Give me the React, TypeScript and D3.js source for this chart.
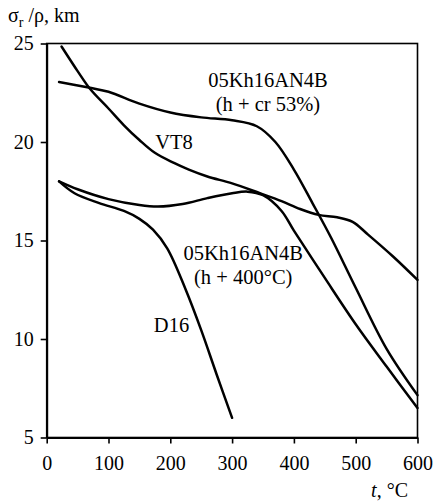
import React, { useEffect, useRef } from 'react';
import * as d3 from 'd3';

// curves: temperature (°C) and specific strength (km)
const vt8T = [24, 50, 70, 100, 125, 150, 175, 205, 230, 260, 300, 345, 380, 410, 440, 470, 495, 520, 560, 600];
const vt8V = [24.85, 23.6, 22.7, 21.7, 20.85, 20.1, 19.45, 18.95, 18.6, 18.25, 17.9, 17.4, 17.0, 16.6, 16.3, 16.18, 15.95, 15.3, 14.2, 13.0];

const cr53T = [20, 70, 100, 150, 200, 250, 300, 340, 370, 400, 430, 460, 500, 550, 600];
const cr53V = [23.05, 22.75, 22.55, 21.95, 21.5, 21.25, 21.1, 20.8, 20.0, 18.6, 16.9, 15.15, 12.6, 9.5, 7.15];

const h400T = [20, 50, 100, 150, 180, 220, 260, 300, 325, 350, 380, 400, 450, 500, 550, 600];
const h400V = [18, 17.6, 17.1, 16.8, 16.72, 16.85, 17.15, 17.4, 17.48, 17.3, 16.5, 15.5, 13.1, 10.75, 8.6, 6.5];

const d16T = [20, 45, 85, 125, 150, 172, 195, 225, 250, 275, 300];
const d16V = [18, 17.4, 16.9, 16.5, 16.1, 15.55, 14.6, 12.5, 10.45, 8.2, 6.0];

const xTicks = [0, 100, 200, 300, 400, 500, 600];
const yTicks = [5, 10, 15, 20, 25];

// curve labels: [text lines, x (°C), y (km) of first baseline]
const labels: [string[], number, number][] = [
  [['05Kh16AN4B', '(h + cr 53%)'], 358, 22.8],
  [['VT8'], 206, 19.63],
  [['05Kh16AN4B', '(h + 400°C)'], 318, 14.0],
  [['D16'], 202, 10.37],
];

const W = 437;
const H = 504;
const FONT = 'Liberation Serif, serif';

export default function App() {
  const ref = useRef<SVGSVGElement>(null);

  useEffect(() => {
    const svg = d3.select(ref.current);
    svg.selectAll('*').remove();

    const margin = { top: 43.5, right: 19.5, bottom: 66.5, left: 46.7 };
    const width = W - margin.left - margin.right;
    const height = H - margin.top - margin.bottom;

    const x = d3.scaleLinear().domain([0, 600]).range([0, width]);
    const y = d3.scaleLinear().domain([5, 25]).range([height, 0]);

    const g = svg.append('g').attr('transform', `translate(${margin.left},${margin.top})`);

    // frame
    g.append('rect')
      .attr('width', width)
      .attr('height', height)
      .attr('fill', 'none')
      .attr('stroke', '#000')
      .attr('stroke-width', 1.6);

    // axes
    const xAxis = g.append('g')
      .attr('transform', `translate(0,${height})`)
      .call(d3.axisBottom(x).tickValues(xTicks).tickSize(6).tickSizeOuter(0).tickPadding(12));
    const yAxis = g.append('g')
      .call(d3.axisLeft(y).tickValues(yTicks).tickSize(6).tickSizeOuter(0).tickPadding(7));

    [xAxis, yAxis].forEach(a => {
      a.select('.domain').attr('stroke-width', 2);
      a.selectAll('line').attr('stroke-width', 1.6);
      a.selectAll('text')
        .attr('font-family', FONT)
        .attr('font-size', 20)
        .attr('fill', '#000');
    });

    // curves
    const line = d3.line<[number, number]>()
      .x(d => x(d[0]))
      .y(d => y(d[1]))
      .curve(d3.curveCatmullRom.alpha(0.5));

    const series: [number[], number[]][] = [
      [vt8T, vt8V],
      [cr53T, cr53V],
      [h400T, h400V],
      [d16T, d16V],
    ];
    series.forEach(([ts, vs]) => {
      g.append('path')
        .datum(ts.map((t, i) => [t, vs[i]] as [number, number]))
        .attr('d', line)
        .attr('fill', 'none')
        .attr('stroke', '#000')
        .attr('stroke-width', 2.5)
        .attr('stroke-linecap', 'round');
    });

    // labels on the curves
    labels.forEach(([lines, t, v]) => {
      const txt = g.append('text')
        .attr('x', x(t))
        .attr('y', y(v))
        .attr('text-anchor', 'middle')
        .attr('font-family', FONT)
        .attr('font-size', 20.5)
        .attr('fill', '#000');
      lines.forEach((s, i) => {
        txt.append('tspan')
          .attr('x', x(t))
          .attr('dy', i === 0 ? 0 : 24)
          .text(s);
      });
    });

    // y title
    const title = svg.append('text')
      .attr('x', 8)
      .attr('y', 22)
      .attr('font-family', FONT)
      .attr('font-size', 20)
      .attr('fill', '#000');
    title.append('tspan').text('σ');
    title.append('tspan').attr('font-size', 14).attr('dy', 5).text('r');
    title.append('tspan').attr('dy', -5).text(' /ρ, km');

    // x title
    const xt = svg.append('text')
      .attr('x', 408)
      .attr('y', 497)
      .attr('text-anchor', 'end')
      .attr('font-family', FONT)
      .attr('font-size', 20)
      .attr('fill', '#000');
    xt.append('tspan').attr('font-style', 'italic').text('t');
    xt.append('tspan').text(', °C');
  }, []);

  return (
    <svg
      ref={ref}
      width={W}
      height={H}
      style={{ position: 'absolute', left: 0, top: 0, background: '#fff' }}
    />
  );
}
